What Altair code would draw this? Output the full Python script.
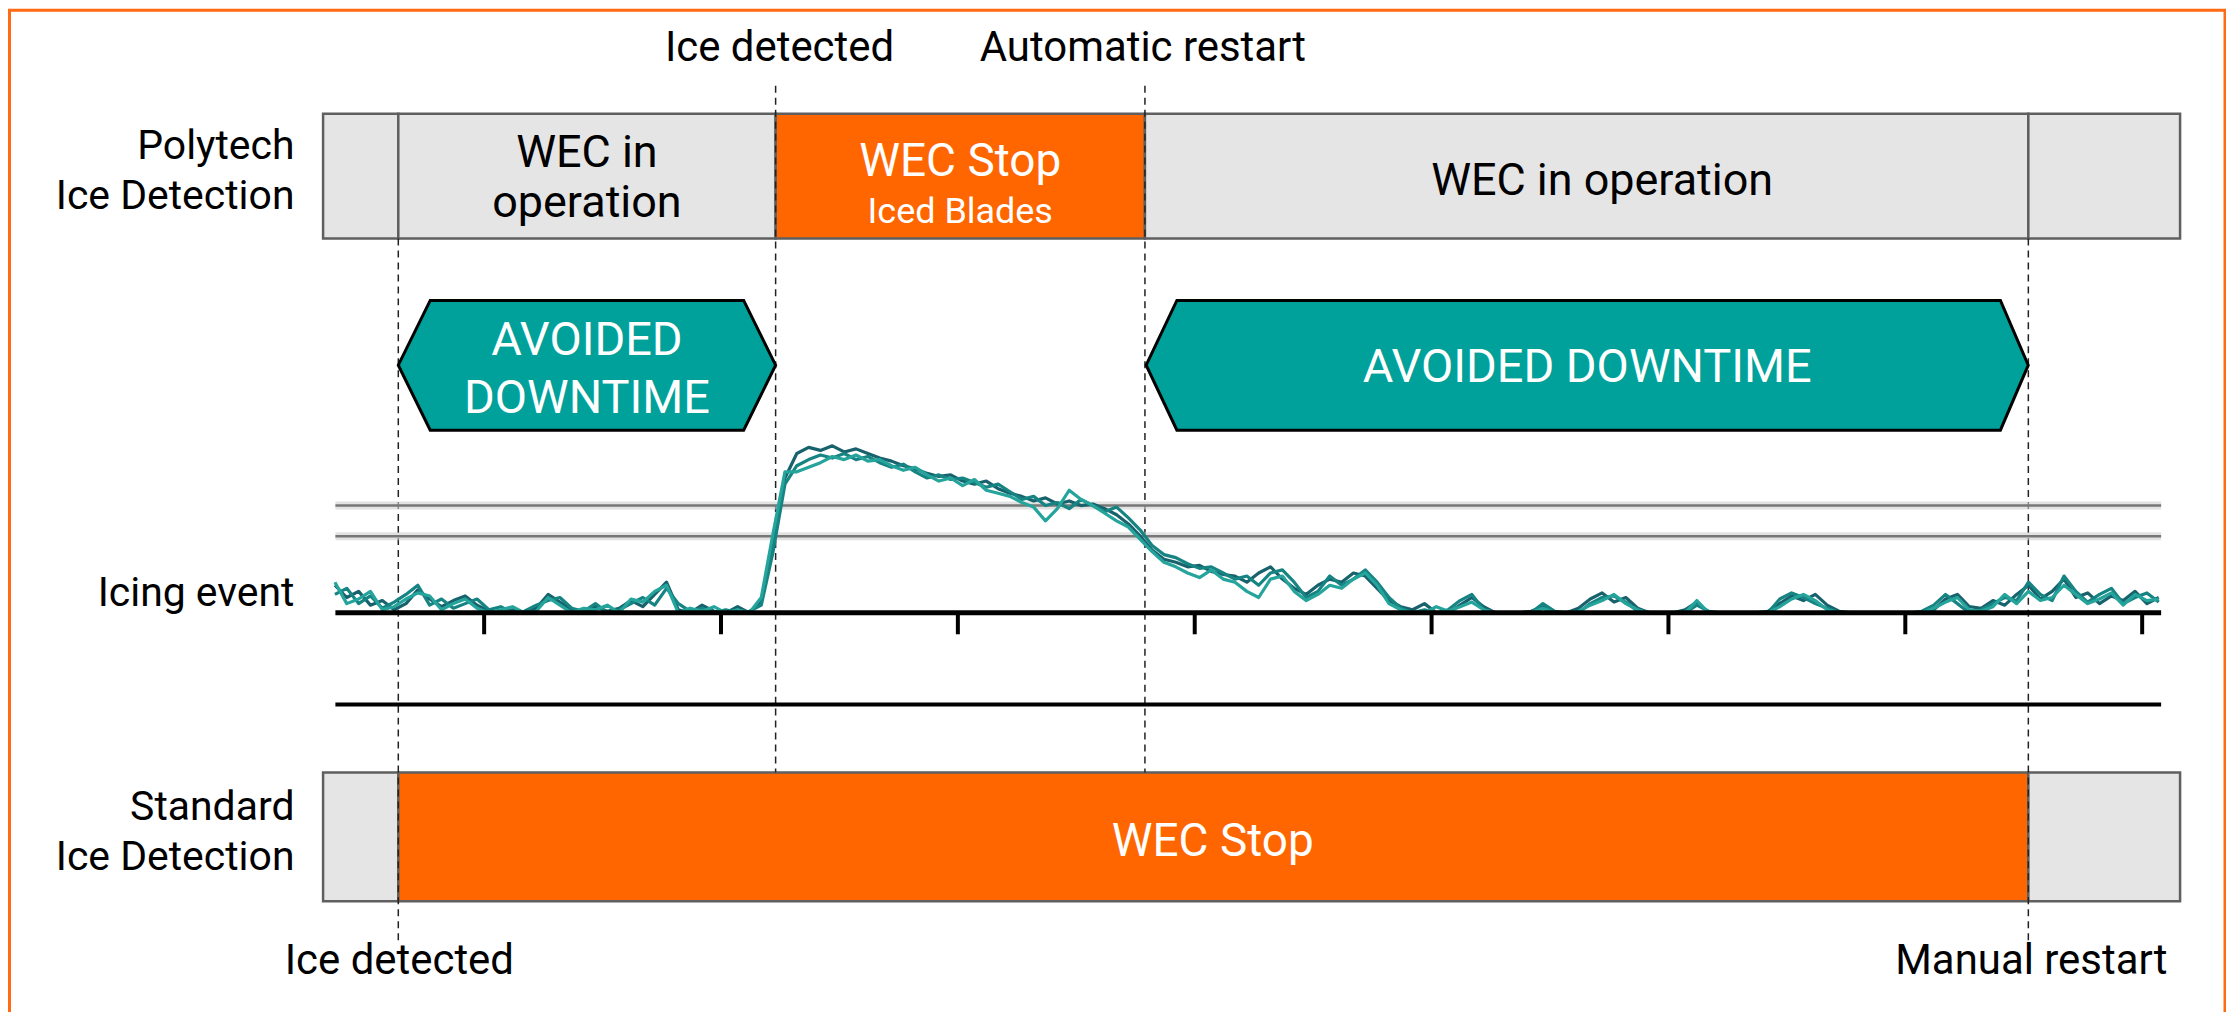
import altair as alt
import pandas as pd

# ---------------- scales (time units: axis ticks sit at 1..8) ----------------
W, H = 2222, 1004
X_DOMAIN = [-1.0102, 8.3539]
Y_DOMAIN = [-259.93, 394.14]   # signal units; 0 = signal baseline
XS = alt.Scale(domain=X_DOMAIN, nice=False, zero=False)
YS = alt.Scale(domain=Y_DOMAIN, nice=False, zero=False)

# ---------------- events (time) ----------------
STD_ICE = 0.6376
POLY_ICE = 2.2306
AUTO_RESTART = 3.7898
MANUAL_RESTART = 7.5194
SIG_START, SIG_END = 0.372, 8.08

# ---------------- state bars ----------------
TOP_SEG_START = [0.32, 0.6376, 2.2306, 3.7898, 7.5194]
TOP_SEG_END = [0.6376, 2.2306, 3.7898, 7.5194, 8.16]
TOP_SEG_STATE = ["run", "run", "stop", "run", "run"]
BOT_SEG_START = [0.32, 0.6376, 7.5194]
BOT_SEG_END = [0.6376, 7.5194, 8.16]
BOT_SEG_STATE = ["run", "stop", "run"]

# ---------------- avoided downtime hexagons ----------------
HEX_TIP_L = [0.6376, 3.795]
HEX_FLAT_L = [0.7724, 3.9247]
HEX_FLAT_R = [2.0957, 7.4015]
HEX_TIP_R = [2.2306, 7.519]

# ---------------- icing signal ----------------
THRESHOLDS = [70, 50]
TICKS = [1, 2, 3, 4, 5, 6, 7, 8]
SAMPLE_START, SAMPLE_STEP = 0.37, 0.05

TRACE_A = ([18, 10, 14, 5, 8, 2, 6, 15, 9, 4, 8, 11, 5, 1, 0, 2, 0, 3, 12, 7, 2, 0, 4, 1, 3, 8, 4, 12, 20, 2, 0, 5, 1, 0, 4, 0]
           + [8, 46, 88]
           + [104, 108, 106, 109, 105, 107, 104, 101, 99, 96, 94, 91, 89, 90]
           + [86, 84, 86, 81, 78, 76, 73, 75, 71, 73, 70, 71, 68, 64, 58, 50, 41, 35, 33, 30, 31, 27, 25]
           + [24, 20, 26, 30, 22, 16, 12, 18, 22, 20, 26, 24, 16, 8, 4, 2, 6, 0]
           + [0, 5, 10, 4, 0, 0, 0, 1, 4, 0, 0, 3, 9, 13, 7, 10, 3, 0, 0, 0, 2, 7, 0, 0, 0, 0, 0, 1, 6, 11,
              8, 12, 5, 1, 0, 0, 0, 0, 0, 0, 0, 2, 9, 12, 4, 3, 8, 5, 12, 18, 9, 14, 22, 10, 13, 6, 11, 8, 14, 6, 10])
TRACE_B = ([12, 16, 6, 11, 3, 7, 12, 18, 5, 9, 3, 6, 9, 2, 4, 0, 1, 5, 8, 10, 3, 1, 6, 0, 2, 6, 10, 5, 16, 6, 1, 3, 0, 2, 0, 1]
           + [5, 40, 84]
           + [96, 100, 103, 101, 104, 100, 102, 98, 95, 97, 92, 88, 90, 87]
           + [88, 85, 82, 84, 79, 74, 76, 70, 72, 68, 74, 70, 66, 69, 62, 54, 44, 38, 36, 32, 29, 30, 26]
           + [22, 24, 18, 26, 28, 20, 10, 14, 24, 18, 22, 28, 20, 10, 3, 0, 2, 0]
           + [2, 8, 12, 2, 0, 0, 0, 0, 6, 1, 0, 0, 6, 10, 11, 7, 1, 0, 0, 0, 0, 5, 1, 0, 0, 0, 0, 0, 9, 13,
              10, 6, 3, 0, 0, 0, 0, 0, 0, 0, 1, 5, 12, 6, 0, 2, 6, 10, 8, 20, 12, 8, 24, 14, 7, 12, 16, 6, 10, 13, 7])
TRACE_C = ([20, 6, 9, 14, 2, 4, 9, 13, 11, 2, 6, 9, 3, 0, 2, 4, 0, 1, 10, 5, 0, 3, 2, 5, 0, 9, 7, 14, 18, 0, 3, 1, 4, 0, 2, 0]
           + [10, 52, 92]
           + [92, 95, 98, 102, 100, 103, 99, 100, 96, 93, 95, 90, 86, 88]
           + [83, 87, 80, 78, 76, 72, 69, 60, 68, 80, 74, 70, 65, 60, 56, 48, 40, 33, 30, 26, 23, 28, 22]
           + [20, 14, 10, 22, 24, 14, 8, 12, 18, 16, 22, 26, 18, 6, 2, 0, 0, 4]
           + [1, 4, 7, 2, 0, 0, 0, 0, 3, 0, 0, 1, 5, 8, 12, 6, 2, 0, 0, 0, 0, 8, 0, 0, 0, 0, 0, 0, 4, 9,
              12, 8, 2, 0, 0, 0, 0, 0, 0, 0, 0, 3, 7, 10, 2, 1, 4, 12, 6, 14, 8, 10, 18, 12, 6, 9, 13, 5, 12, 8, 9])
TRACE_COLORS = ["#17626c", "#168482", "#25a49c"]

# ---------------- texts ----------------
ANNOT_TEXT = ["Ice detected", "Automatic restart", "Ice detected", "Manual restart"]
ANNOT_T = [2.247, 3.781, 0.642, 7.532]
ANNOT_V = [360.3, 360.3, -235.8, -235.8]
ROW_TEXT = ["Polytech", "Ice Detection", "Icing event", "Standard", "Ice Detection"]
ROW_V = [296.4, 263.8, 4.6, -134.9, -168.1]
ROW_T = 0.1993
GRAY_BAR_TEXT = ["WEC in", "operation", "WEC in operation"]
GRAY_BAR_T = [1.434, 1.434, 5.72]
GRAY_BAR_V = [291.2, 258.6, 273.0]
ORANGE_TEXT = ["WEC Stop", "Iced Blades", "WEC Stop"]
ORANGE_T = [3.01, 3.01, 4.076]
ORANGE_V = [285.3, 254.7, -159.0]
ORANGE_SIZE = [46, 36, 46]
HEX_TEXT = ["AVOIDED", "DOWNTIME", "AVOIDED DOWNTIME"]
HEX_T = [1.434, 1.434, 5.657]
HEX_V = [168.1, 130.3, 150.5]

# ---------------- layout levels (signal units) ----------------
TOP_LANE = (325.7, 244.3)
BOT_LANE = (-104.2, -188.3)
HEX_LEVEL = (203.9, 161.6, 119.2)
SECOND_LINE = -59.9
TICK_END = -14
DASH_TOP_HIGH = 344.0
DASH_BOTTOM_LOW = -214.3
FRAME = (-1.0039, 8.3497, 393.2, -300)

ORANGE = "#FF6600"
GRAY = "#E5E5E5"
TEAL = "#00A19A"
FONT = "Roboto"


def X(field="t"):
    return alt.X(f"{field}:Q", scale=XS, axis=None)


def Y(field="v"):
    return alt.Y(f"{field}:Q", scale=YS, axis=None)


layers = []

# frame
frame_df = pd.DataFrame({"t0": [FRAME[0]], "t1": [FRAME[1]], "v0": [FRAME[2]], "v1": [FRAME[3]]})
layers.append(alt.Chart(frame_df).mark_rect(fillOpacity=0, stroke="#FF6A13", strokeWidth=3).encode(
    x=X("t0"), x2="t1", y=Y("v0"), y2="v1"))

# state bars
rows = []
for s, e, st in zip(TOP_SEG_START, TOP_SEG_END, TOP_SEG_STATE):
    rows.append({"t0": s, "t1": e, "v0": TOP_LANE[0], "v1": TOP_LANE[1], "fill": ORANGE if st == "stop" else GRAY})
for s, e, st in zip(BOT_SEG_START, BOT_SEG_END, BOT_SEG_STATE):
    rows.append({"t0": s, "t1": e, "v0": BOT_LANE[0], "v1": BOT_LANE[1], "fill": ORANGE if st == "stop" else GRAY})
bars_df = pd.DataFrame(rows)
layers.append(alt.Chart(bars_df).mark_rect(stroke="#5f5f5f", strokeWidth=2.5).encode(
    x=X("t0"), x2="t1", y=Y("v0"), y2="v1", color=alt.Color("fill:N", scale=None)))

# dashed event lines
dash_df = pd.DataFrame({
    "t": [STD_ICE, POLY_ICE, AUTO_RESTART, MANUAL_RESTART],
    "v0": [TOP_LANE[1], DASH_TOP_HIGH, DASH_TOP_HIGH, TOP_LANE[1]],
    "v1": [DASH_BOTTOM_LOW, BOT_LANE[0], BOT_LANE[0], DASH_BOTTOM_LOW],
})
layers.append(alt.Chart(dash_df).mark_rule(color="#222222", strokeWidth=1.5, strokeDash=[7, 5]).encode(
    x=X("t"), y=Y("v0"), y2="v1"))

# hexagons
hex_rows = []
for i in range(len(HEX_TIP_L)):
    hex_rows += [
        {"hex": i, "t": HEX_TIP_L[i], "top": HEX_LEVEL[1], "bot": HEX_LEVEL[1]},
        {"hex": i, "t": HEX_FLAT_L[i], "top": HEX_LEVEL[0], "bot": HEX_LEVEL[2]},
        {"hex": i, "t": HEX_FLAT_R[i], "top": HEX_LEVEL[0], "bot": HEX_LEVEL[2]},
        {"hex": i, "t": HEX_TIP_R[i], "top": HEX_LEVEL[1], "bot": HEX_LEVEL[1]},
    ]
hex_df = pd.DataFrame(hex_rows)
layers.append(alt.Chart(hex_df).mark_area(color=TEAL, stroke="black", strokeWidth=3, strokeJoin="miter",
                                          fillOpacity=1).encode(
    x=X("t"), y=Y("top"), y2="bot", detail="hex:N"))

# threshold lines (soft halo + core)
thr_df = pd.DataFrame({"v": THRESHOLDS, "t0": SIG_START, "t1": SIG_END})
layers.append(alt.Chart(thr_df).mark_rule(color="#cfcfcf", strokeWidth=8, opacity=0.6).encode(
    y=Y("v"), x=X("t0"), x2="t1"))
layers.append(alt.Chart(thr_df).mark_rule(color="#777777", strokeWidth=2.5).encode(
    y=Y("v"), x=X("t0"), x2="t1"))

# second black line
line2_df = pd.DataFrame({"v": [SECOND_LINE], "t0": [SIG_START], "t1": [SIG_END]})
layers.append(alt.Chart(line2_df).mark_rule(color="black", strokeWidth=4).encode(
    y=Y("v"), x=X("t0"), x2="t1"))

# signal traces
sig_rows = []
for k, (tr, col) in enumerate(zip([TRACE_A, TRACE_B, TRACE_C], TRACE_COLORS)):
    for i, val in enumerate(tr):
        sig_rows.append({"trace": k, "t": round(SAMPLE_START + SAMPLE_STEP * i, 3), "v": val, "col": col})
sig_df = pd.DataFrame(sig_rows)
layers.append(alt.Chart(sig_df).mark_line(strokeWidth=3.2, strokeJoin="round").encode(
    x=X("t"), y=Y("v"), detail="trace:N", color=alt.Color("col:N", scale=None)))

# baseline and ticks
base_df = pd.DataFrame({"v": [0], "t0": [SIG_START], "t1": [SIG_END]})
layers.append(alt.Chart(base_df).mark_rule(color="black", strokeWidth=5).encode(
    y=Y("v"), x=X("t0"), x2="t1"))
tick_df = pd.DataFrame({"t": TICKS, "v0": 0, "v1": TICK_END})
layers.append(alt.Chart(tick_df).mark_rule(color="black", strokeWidth=4).encode(
    x=X("t"), y=Y("v0"), y2="v1"))


def text_layer(texts, ts, vs, size, color, align="center", weight="normal"):
    df = pd.DataFrame({"text": texts, "t": ts, "v": vs})
    return alt.Chart(df).mark_text(font=FONT, fontSize=size, color=color, align=align,
                                   baseline="alphabetic", fontWeight=weight).encode(
        x=X("t"), y=Y("v"), text="text:N")


layers.append(text_layer(ANNOT_TEXT, ANNOT_T, ANNOT_V, 42, "black"))
layers.append(text_layer(ROW_TEXT, [ROW_T] * len(ROW_TEXT), ROW_V, 41, "black", align="right"))
layers.append(text_layer(GRAY_BAR_TEXT, GRAY_BAR_T, GRAY_BAR_V, 45, "black"))
for txt, t, v, sz in zip(ORANGE_TEXT, ORANGE_T, ORANGE_V, ORANGE_SIZE):
    layers.append(text_layer([txt], [t], [v], sz, "white"))
layers.append(text_layer(HEX_TEXT, HEX_T, HEX_V, 47, "white"))

chart = alt.layer(*layers).properties(
    width=W, height=H, padding=0, autosize="none", background="white"
).configure_view(stroke=None)

chart.save("out.html", embed_options={"renderer": "svg", "actions": False})
